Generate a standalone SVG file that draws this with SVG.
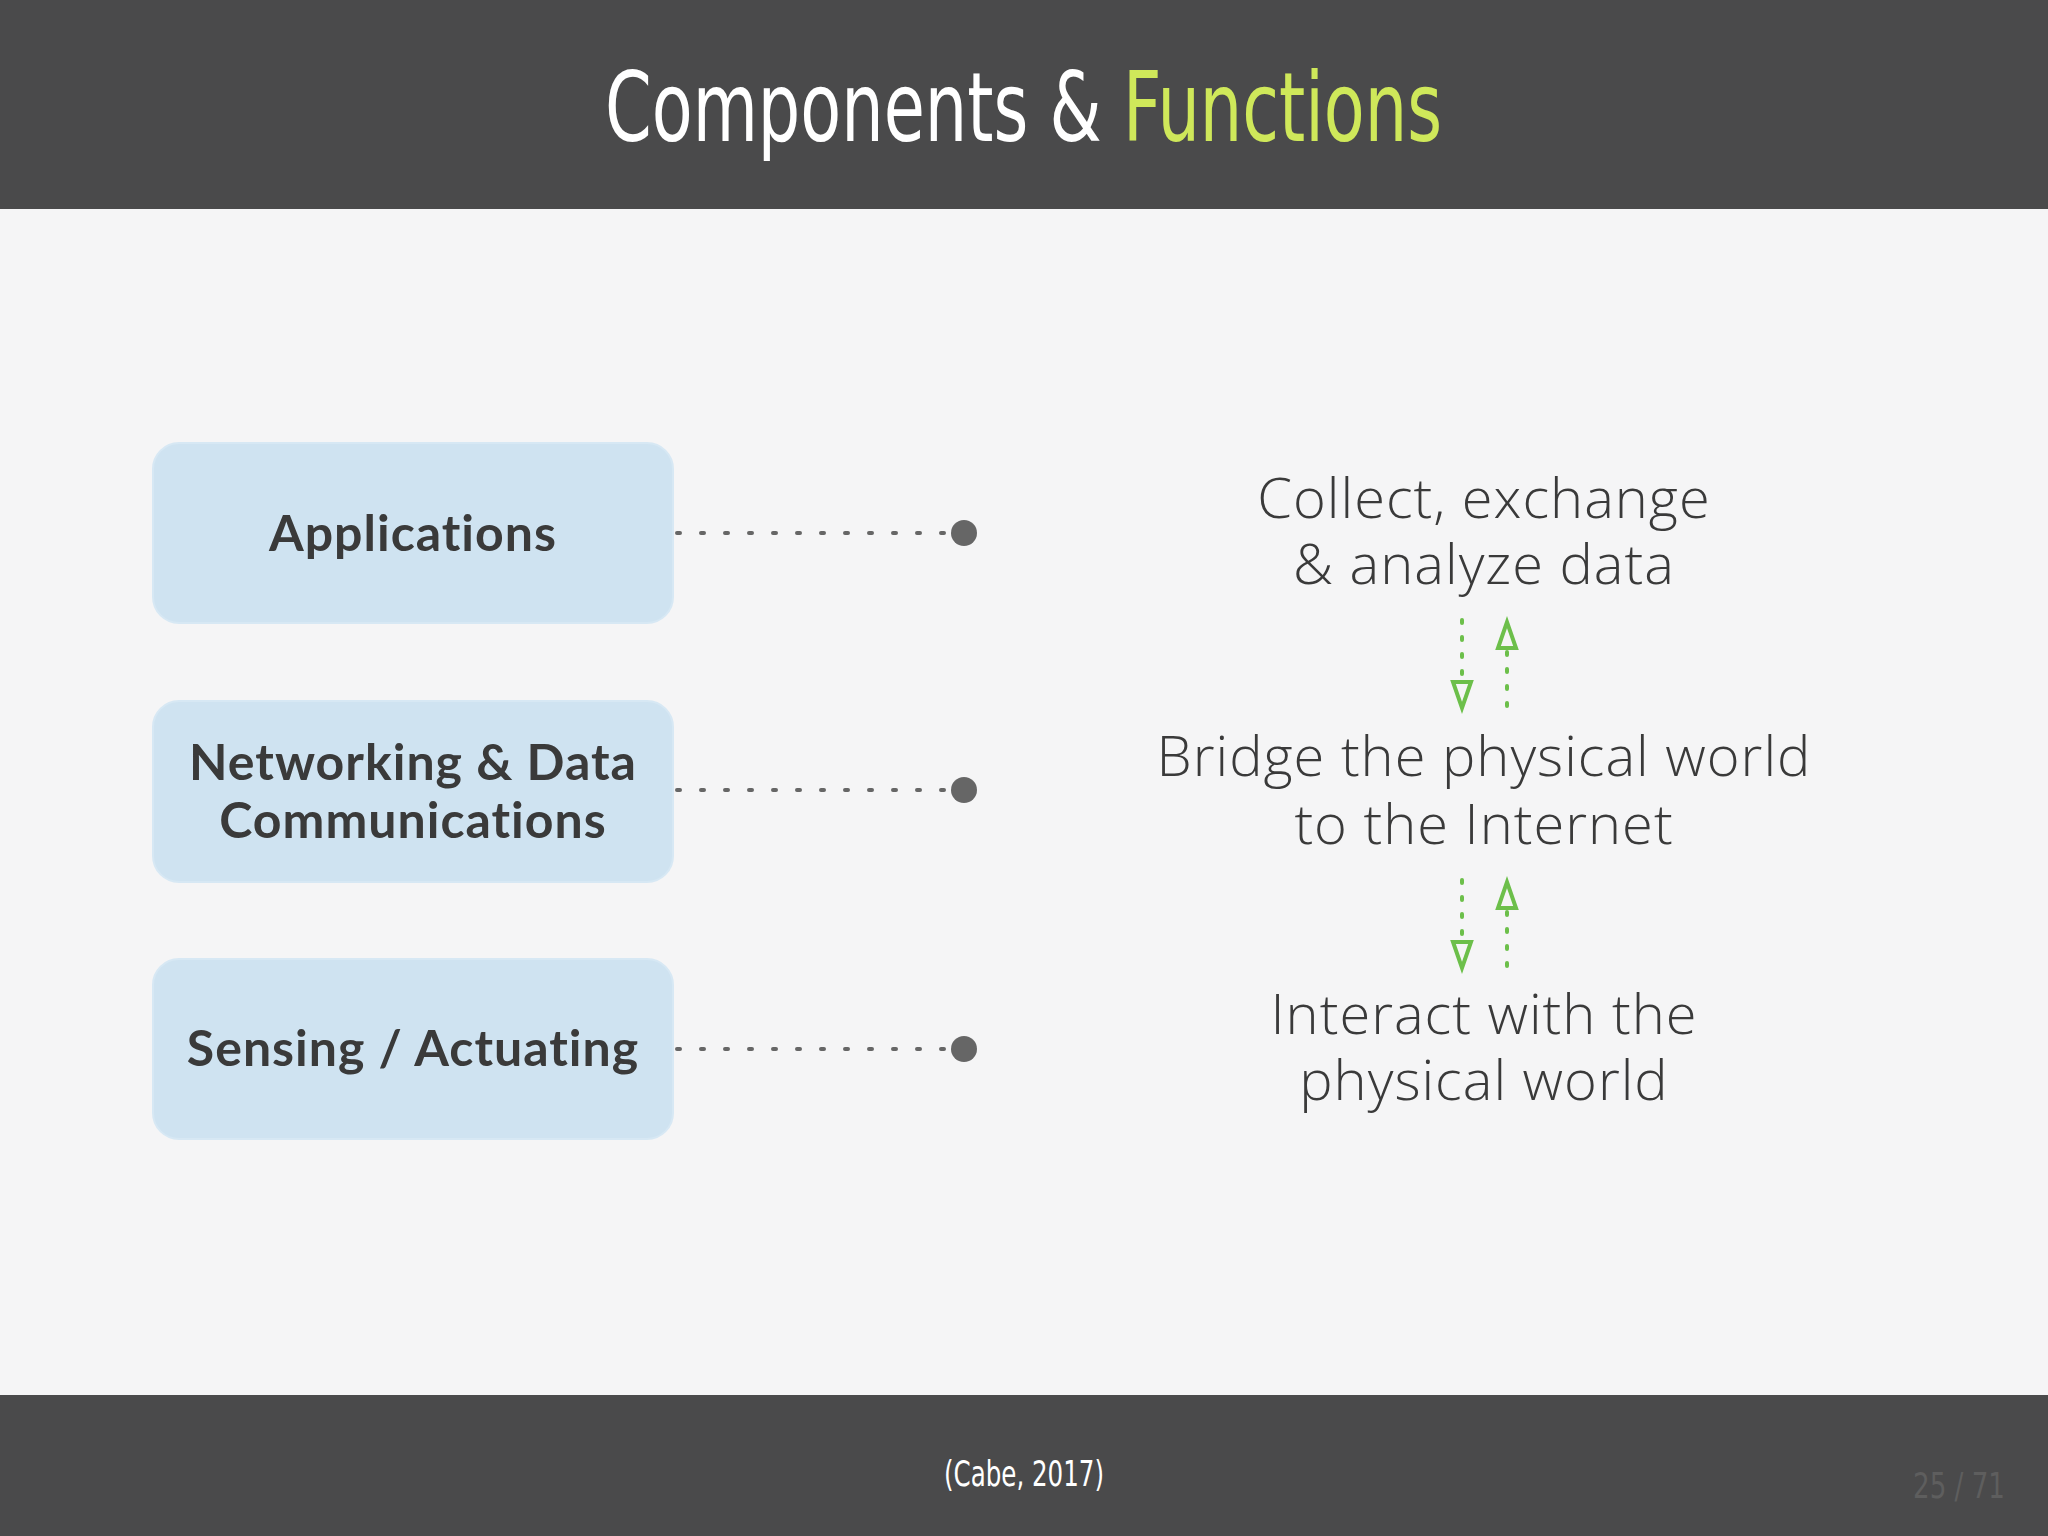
<svg xmlns="http://www.w3.org/2000/svg" width="2048" height="1536" viewBox="0 0 2048 1536">
<defs>
<style>
.box{fill:#cfe3f1;stroke:#d7e8f4;stroke-width:2}
.lbl{font-family:Lato,"Open Sans",sans-serif;font-weight:bold;font-size:50px;fill:#3a3a3a;text-anchor:middle;letter-spacing:1px}
.fn{font-family:"Open Sans",Lato,sans-serif;font-weight:300;font-size:56px;fill:#3a3a3a;text-anchor:middle;letter-spacing:1px}
.dot{stroke:#666;stroke-width:4;stroke-dasharray:3 21;stroke-linecap:round;fill:none}
.g{stroke:#6cbf4a;stroke-width:4;stroke-dasharray:3 14;stroke-linecap:round;fill:none}
.ah{fill:none;stroke:#6cbf4a;stroke-width:4;stroke-linejoin:miter}
.t{font-family:"DejaVu Sans Condensed","Roboto Condensed",sans-serif;font-size:96px}
</style>
</defs>
<rect width="2048" height="1536" fill="#f5f5f6"/>
<rect width="2048" height="209" fill="#4a4a4b"/>
<rect y="1395" width="2048" height="141" fill="#4a4a4b"/>
<text class="t" x="605" y="141" fill="#ffffff" textLength="837" lengthAdjust="spacingAndGlyphs">Components &amp; <tspan fill="#cfe85a">Functions</tspan></text>
<g id="n-applications"><rect class="box" x="153" y="443" width="520" height="180" rx="26"/><text class="lbl" x="413" y="551">Applications</text></g>
<g id="n-networking"><rect class="box" x="153" y="701" width="520" height="181" rx="26"/><text class="lbl" x="413" y="780">Networking &amp; Data</text><text class="lbl" x="413" y="838">Communications</text></g>
<g id="n-sensing"><rect class="box" x="153" y="959" width="520" height="180" rx="26"/><text class="lbl" x="413" y="1066">Sensing / Actuating</text></g>
<g id="n-collect"><text class="fn" x="1484" y="518">Collect, exchange</text><text class="fn" x="1484" y="584">&amp; analyze data</text></g>
<g id="n-bridge"><text class="fn" x="1484" y="776">Bridge the physical world</text><text class="fn" x="1484" y="844">to the Internet</text></g>
<g id="n-interact"><text class="fn" x="1484" y="1034">Interact with the</text><text class="fn" x="1484" y="1100">physical world</text></g>
<g id="connectors">
<line class="dot" x1="677" y1="533" x2="945" y2="533"/><circle cx="964" cy="533" r="13" fill="#666"/>
<line class="dot" x1="677" y1="790" x2="945" y2="790"/><circle cx="964" cy="790" r="13" fill="#666"/>
<line class="dot" x1="677" y1="1049" x2="945" y2="1049"/><circle cx="964" cy="1049" r="13" fill="#666"/>
<line class="g" x1="1462" y1="620" x2="1462" y2="680"/><path class="ah" d="M1453 682 L1471 682 L1462 708 Z"/>
<line class="g" x1="1507" y1="652" x2="1507" y2="712"/><path class="ah" d="M1498 648 L1516 648 L1507 622 Z"/>
<line class="g" x1="1462" y1="880" x2="1462" y2="940"/><path class="ah" d="M1453 942 L1471 942 L1462 968 Z"/>
<line class="g" x1="1507" y1="912" x2="1507" y2="972"/><path class="ah" d="M1498 908 L1516 908 L1507 882 Z"/>
</g>
<text x="1024" y="1486" font-family="'DejaVu Sans Condensed',sans-serif" font-size="36" fill="#ffffff" text-anchor="middle" textLength="160" lengthAdjust="spacingAndGlyphs">(Cabe, 2017)</text>
<text x="2005" y="1498" font-family="'DejaVu Sans Condensed',sans-serif" font-size="36" fill="#5e5e5e" text-anchor="end" textLength="92" lengthAdjust="spacingAndGlyphs">25 / 71</text>
</svg>
